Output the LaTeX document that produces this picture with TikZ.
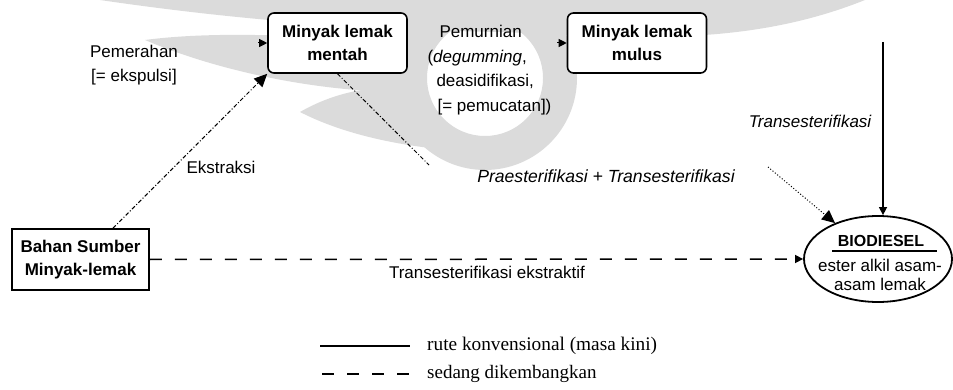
\documentclass[tikz,border=0pt]{standalone}
\usepackage{fontspec}
\setmainfont{Liberation Sans}
\newfontfamily\legendfont{Liberation Serif}
\usetikzlibrary{arrows.meta,shapes.geometric,calc}

\tikzset{
  boxfont/.style={font=\fontsize{17}{23}\selectfont\bfseries},
  lblfont/.style={font=\fontsize{17}{24.5}\selectfont},
  oilbox/.style={draw, line width=1.6pt, rounded corners=6pt, fill=white,
    minimum width=139pt, minimum height=60pt, inner sep=0pt, boxfont, align=center},
  srcbox/.style={draw, line width=1.6pt, minimum width=137pt, minimum height=61pt,
    inner sep=0pt, boxfont, align=center},
  prodell/.style={draw, ellipse, line width=1.8pt, minimum width=148pt,
    minimum height=86pt, inner sep=0pt},
  bighead/.style={-{Triangle[length=13pt,width=12pt]}},
  smallhead/.style={-{Triangle[length=8pt,width=8pt]}},
  dashdotline/.style={line width=1pt, dash pattern=on 4pt off 2pt on 1pt off 2pt},
  dotline/.style={line width=1pt, dash pattern=on 1pt off 2pt},
  longdash/.style={line width=1.5pt, dash pattern=on 12pt off 13pt},
  solidline/.style={line width=1.5pt},
  wmark/.style={fill=black!14, draw=none},
}

\begin{document}
\begin{tikzpicture}[x=1pt, y=-1pt]
  \useasboundingbox (0,0) rectangle (953,390);

  % faint emblem in the background
  \fill[wmark] (100,0) .. controls (250,22) and (380,30) .. (500,32)
    .. controls (620,36) and (740,50) .. (865,0) -- cycle;
  \fill[wmark] (145,40) .. controls (220,30) and (330,36) .. (410,46)
    -- (405,92) .. controls (320,92) and (220,72) .. (145,40) -- cycle;
  \fill[wmark, even odd rule] (485,78) circle[radius=92] (485,78) circle[radius=58];
  \fill[wmark] (300,112) .. controls (335,92) and (370,86) .. (405,88)
    -- (430,148) .. controls (380,142) and (335,130) .. (300,112) -- cycle;

  % process stages
  \node[oilbox] (mentah) at (337.5,43) {Minyak lemak\\mentah};
  \node[oilbox] (mulus) at (637,43) {Minyak lemak\\mulus};
  \node[srcbox] (bahan) at (80.5,259.5) {Bahan Sumber\\Minyak-lemak};
  \node[prodell] (bio) at (878,259) {};
  \node[font=\fontsize{16}{16}\selectfont\bfseries] (biotitle) at (881,241) {BIODIESEL};
  \draw[line width=2pt] (832,251) -- (937,251);
  \node[align=center, font=\fontsize{17}{19}\selectfont] (biotext) at (880,275)
    {ester alkil asam-\\asam lemak};

  % labels
  \node[lblfont, align=center] (pemerahan) at (134,65) {Pemerahan\\{}[= ekspulsi]};
  \node[lblfont, align=left, anchor=west] (pemurnian) at (424,70)
    {\hspace*{12pt}Pemurnian\\(\textit{degumming},\\\hspace*{9pt}deasidifikasi,\\\hspace*{10pt}[= pemucatan])};
  \node[lblfont] (ekstraksi) at (221,167) {Ekstraksi};
  \node[font=\fontsize{17.6}{20}\selectfont\itshape] (praester) at (606,176)
    {Praesterifikasi + Transesterifikasi};
  \node[font=\fontsize{17}{20}\selectfont\itshape] (transester) at (810,121)
    {Transesterifikasi};
  \node[lblfont] (transekstr) at (487,272) {Transesterifikasi ekstraktif};

  % connectors
  \coordinate (pemin) at (258,43);
  \draw[line width=1pt, smallhead] (pemin) -- (mentah.west);
  \coordinate (murnin) at (557,43);
  \draw[line width=1pt, smallhead] (murnin) -- (mulus.west);
  \draw[dashdotline, bighead] ([xshift=32.5pt]bahan.north) -- (mentah.south west);
  \coordinate (prebend1) at (429,165);
  \coordinate (prebend2) at (768,167);
  \draw[dashdotline] (mentah.south) -- (prebend1);
  \draw[dotline, bighead] (prebend2) -- (bio);
  \coordinate (transtop) at (883,42);
  \draw[solidline, smallhead] (transtop) -- (transtop |- bio.north);
  \draw[longdash, smallhead] (bahan.east) -- (bio.west);

  % legend
  \coordinate (leg1a) at (320,346);
  \coordinate (leg1b) at (410,346);
  \coordinate (leg2a) at (322,374);
  \coordinate (leg2b) at (410,374);
  \draw[solidline] (leg1a) -- (leg1b);
  \draw[longdash] (leg2a) -- (leg2b);
  \node[anchor=west, font=\legendfont\fontsize{19.3}{20}\selectfont, inner sep=0pt] (leg1)
    at (427,346) {rute konvensional (masa kini)};
  \node[anchor=west, font=\legendfont\fontsize{19}{20}\selectfont, inner sep=0pt] (leg2)
    at (427,374) {sedang dikembangkan};
\end{tikzpicture}
\end{document}
